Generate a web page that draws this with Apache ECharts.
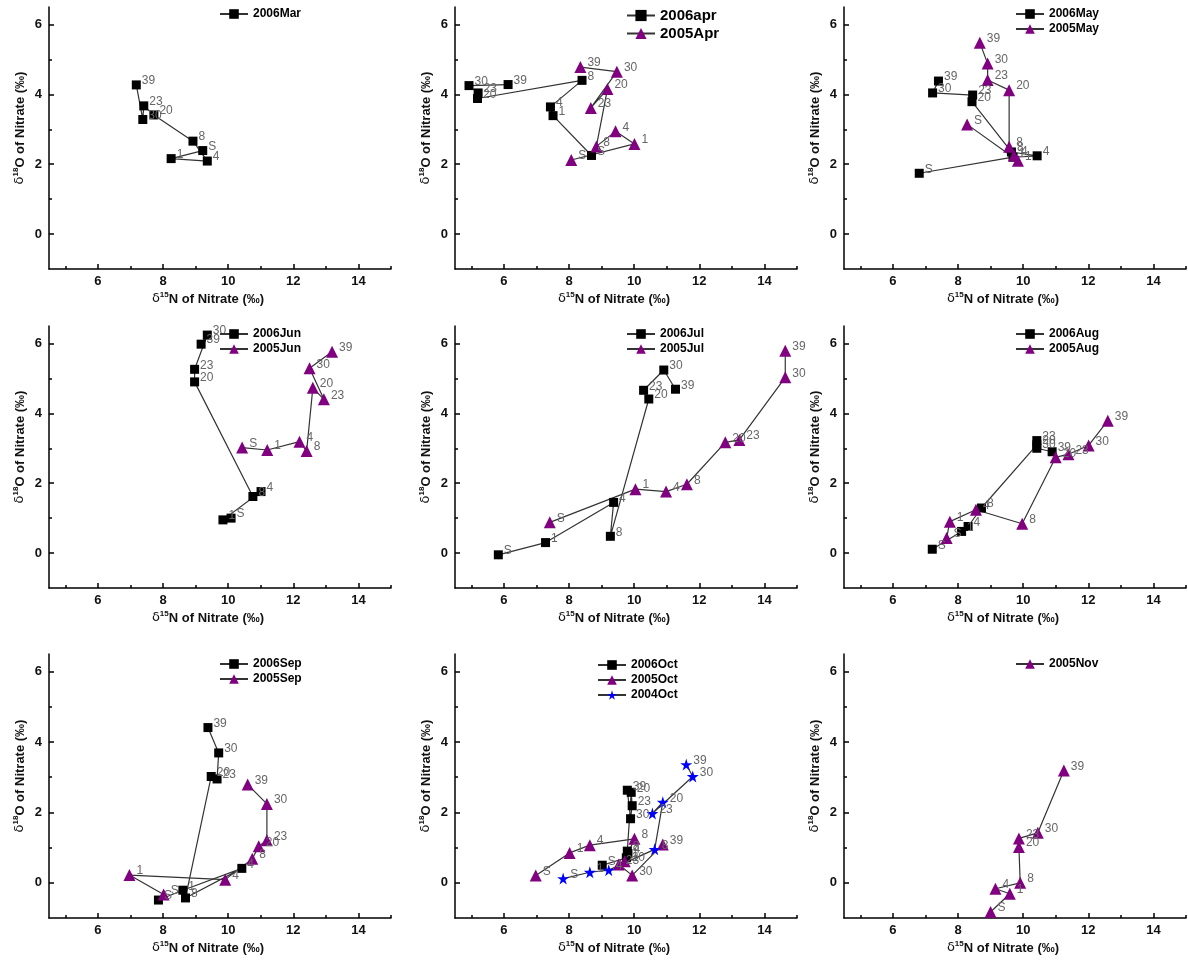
<!DOCTYPE html>
<html>
<head>
<meta charset="utf-8">
<script src="https://cdn.jsdelivr.net/npm/echarts@6/dist/echarts.min.js"></script>
<style>
  html, body { margin: 0; padding: 0; background: #fff; }
  #chart { width: 1188px; height: 965px; }
</style>
</head>
<body>
<div id="chart"></div>
<script>
// sampling sites, in the order the points are joined
const days = ['S', '1', '4', '8', '20', '23', '30', '39']

// δ15N (x) and δ18O (y) per month
const mar06N = [9.22, 8.25, 9.36, 8.92, 7.72, 7.41, 7.38, 7.18]
const mar06O = [2.39, 2.16, 2.09, 2.66, 3.41, 3.67, 3.28, 4.27]

const apr06N = [8.69, 7.51, 7.43, 8.40, 5.19, 5.21, 4.93, 6.13]
const apr06O = [2.25, 3.39, 3.64, 4.40, 3.88, 4.04, 4.25, 4.28]
const apr05N = [8.07, 10.01, 9.43, 8.84, 9.18, 8.67, 9.47, 8.35]
const apr05O = [2.12, 2.58, 2.94, 2.51, 4.15, 3.61, 4.65, 4.78]

const may06N = [6.81, 9.69, 10.43, 9.64, 8.43, 8.45, 7.22, 7.40]
const may06O = [1.74, 2.20, 2.24, 2.35, 3.79, 3.98, 4.04, 4.38]
const may05N = [8.28, 9.84, 9.72, 9.57, 9.57, 8.91, 8.91, 8.67]
const may05O = [3.14, 2.10, 2.25, 2.50, 4.12, 4.41, 4.88, 5.48]

const jun06N = [10.09, 9.84, 11.01, 10.76, 8.97, 8.97, 9.36, 9.17]
const jun06O = [1.00, 0.95, 1.76, 1.62, 4.90, 5.26, 6.24, 5.98]
const jun05N = [10.43, 11.20, 12.19, 12.41, 12.60, 12.94, 12.50, 13.19]
const jun05O = [3.02, 2.95, 3.19, 2.92, 4.73, 4.40, 5.29, 5.76]

const jul06N = [5.83, 7.28, 9.37, 9.27, 10.45, 10.29, 10.91, 11.27]
const jul06O = [-0.05, 0.30, 1.45, 0.48, 4.41, 4.66, 5.24, 4.69]
const jul05N = [7.41, 10.04, 10.98, 11.62, 12.80, 13.23, 14.64, 14.64]
const jul05O = [0.88, 1.83, 1.76, 1.97, 3.17, 3.24, 5.03, 5.79]

const aug06N = [7.21, 8.11, 8.31, 8.72, 10.42, 10.42, 10.42, 10.89]
const aug06O = [0.11, 0.62, 0.76, 1.29, 3.10, 3.22, 3.00, 2.90]
const aug05N = [7.65, 7.75, 8.55, 9.97, 11.00, 11.39, 12.01, 12.60]
const aug05O = [0.43, 0.90, 1.24, 0.84, 2.74, 2.83, 3.08, 3.79]

const sep06N = [7.86, 8.61, 10.42, 8.69, 9.48, 9.66, 9.71, 9.38]
const sep06O = [-0.49, -0.21, 0.41, -0.43, 3.02, 2.95, 3.69, 4.41]
const sep05N = [8.02, 6.97, 9.91, 10.74, 10.94, 11.19, 11.19, 10.60]
const sep05O = [-0.33, 0.22, 0.09, 0.68, 1.04, 1.21, 2.24, 2.79]

const oct06N = [9.02, 9.76, 9.81, 9.79, 9.91, 9.94, 9.89, 9.79]
const oct06O = [0.50, 0.71, 0.83, 0.90, 2.57, 2.19, 1.82, 2.63]
const oct05N = [6.98, 8.02, 8.64, 10.01, 9.71, 9.53, 9.94, 10.88]
const oct05O = [0.21, 0.85, 1.07, 1.25, 0.61, 0.52, 0.21, 1.09]
const oct04N = [7.82, 8.64, 9.22, 10.63, 10.88, 10.56, 11.80, 11.60]
const oct04O = [0.12, 0.30, 0.36, 0.95, 2.29, 1.97, 3.02, 3.36]

const nov05N = [9.00, 9.59, 9.15, 9.91, 9.87, 9.87, 10.45, 11.25]
const nov05O = [-0.83, -0.31, -0.17, 0.00, 1.02, 1.26, 1.42, 3.19]

// tick labels
const xMajor = [6, 8, 10, 12, 14]
const xMinor = [5, 7, 9, 11, 13, 15]
const yMajor = [0, 2, 4, 6]
const yMinor = [1, 3, 5]

const FONT = 'Liberation Sans, Arial, sans-serif'
const SQUARE = { symbol: 'rect', symbolSize: 9, color: '#000000' }
const TRI = { symbol: 'triangle', symbolSize: 12, color: '#800080' }
const STAR = { symbol: 'path://M50,0 L61,35 L98,35 L68,57 L79,91 L50,70 L21,91 L32,57 L2,35 L39,35 Z', symbolSize: 12, color: '#0000ff' }

const panels = [
  { series: [['2006Mar', mar06N, mar06O, SQUARE]], legend: [219, 8] },
  { series: [['2006apr', apr06N, apr06O, SQUARE], ['2005Apr', apr05N, apr05O, TRI]], legend: [626, 8], big: true },
  { series: [['2006May', may06N, may06O, SQUARE], ['2005May', may05N, may05O, TRI]], legend: [1015, 8] },
  { series: [['2006Jun', jun06N, jun06O, SQUARE], ['2005Jun', jun05N, jun05O, TRI]], legend: [219, 328] },
  { series: [['2006Jul', jul06N, jul06O, SQUARE], ['2005Jul', jul05N, jul05O, TRI]], legend: [626, 328] },
  { series: [['2006Aug', aug06N, aug06O, SQUARE], ['2005Aug', aug05N, aug05O, TRI]], legend: [1015, 328] },
  { series: [['2006Sep', sep06N, sep06O, SQUARE], ['2005Sep', sep05N, sep05O, TRI]], legend: [219, 658] },
  { series: [['2006Oct', oct06N, oct06O, SQUARE], ['2005Oct', oct05N, oct05O, TRI], ['2004Oct', oct04N, oct04O, STAR]], legend: [597, 659] },
  { series: [['2005Nov', nov05N, nov05O, TRI]], legend: [1015, 658] }
]

const colLeft = [49, 455, 844]
const rowTop = [7, 326, 654]
const rowH = [262, 262, 264]

const rich = {
  a: { fontFamily: FONT, fontWeight: 'bold', fontSize: 13, color: '#111' },
  d: { fontFamily: 'DejaVu Sans, sans-serif', fontSize: 13, color: '#111' },
  sup: { fontFamily: FONT, fontWeight: 'bold', fontSize: 8, color: '#111', padding: [0, 0, 8, 0] }
}

const grid = []
const xAxis = []
const yAxis = []
const legend = []
const series = []

panels.forEach((p, g) => {
  const col = g % 3
  const row = Math.floor(g / 3)
  grid.push({ left: colLeft[col], top: rowTop[row], width: 342, height: rowH[row] })

  const baseX = {
    type: 'value', gridIndex: g, min: 4.5, max: 15, position: 'bottom',
    splitLine: { show: false }
  }
  xAxis.push({
    ...baseX,
    axisLine: { onZero: false, lineStyle: { color: '#000', width: 1.5 } },
    axisTick: { inside: true, length: 5, customValues: xMajor, lineStyle: { color: '#000', width: 1.5 } },
    axisLabel: { customValues: xMajor, color: '#111', fontFamily: FONT, fontWeight: 'bold', fontSize: 13, margin: 6 },
    name: '{d|δ}{sup|15}{a|N of Nitrate (‰)}',
    nameLocation: 'middle',
    nameGap: 22,
    nameTextStyle: { rich, padding: [0, 24, 0, 0] }
  })
  xAxis.push({
    ...baseX,
    axisLine: { show: false, onZero: false },
    axisTick: { inside: true, length: 3, customValues: xMinor, lineStyle: { color: '#000', width: 1.5 } },
    axisLabel: { show: false }
  })

  const baseY = {
    type: 'value', gridIndex: g, min: -1, max: 6.5, position: 'left',
    splitLine: { show: false }
  }
  yAxis.push({
    ...baseY,
    axisLine: { show: true, onZero: false, lineStyle: { color: '#000', width: 1.5 } },
    axisTick: { show: true, inside: true, length: 5, customValues: yMajor, lineStyle: { color: '#000', width: 1.5 } },
    axisLabel: { customValues: yMajor, color: '#111', fontFamily: FONT, fontWeight: 'bold', fontSize: 13, margin: 7 },
    name: '{d|δ}{sup|18}{a|O of Nitrate (‰)}',
    nameLocation: 'middle',
    nameGap: 21,
    nameTextStyle: { rich, padding: [0, 0, 0, 20] }
  })
  yAxis.push({
    ...baseY,
    axisLine: { show: false, onZero: false },
    axisTick: { show: true, inside: true, length: 3, customValues: yMinor, lineStyle: { color: '#000', width: 1.5 } },
    axisLabel: { show: false }
  })

  legend.push({
    left: p.legend[0], top: p.legend[1],
    orient: 'vertical', padding: 0,
    itemWidth: 28, itemHeight: p.big ? 14 : 12, itemGap: 3,
    data: p.series.map(s => s[0]),
    textStyle: { fontFamily: FONT, fontWeight: 'bold', fontSize: p.big ? 15 : 12, color: '#000' }
  })

  p.series.forEach(([name, xs, ys, mark]) => {
    series.push({
      name,
      type: 'line',
      xAxisIndex: 2 * g,
      yAxisIndex: 2 * g,
      data: days.map((d, i) => ({ name: d, value: [xs[i], ys[i]] })),
      symbol: mark.symbol,
      symbolSize: mark.symbolSize,
      itemStyle: { color: mark.color },
      lineStyle: { color: '#333', width: 1.2 },
      label: {
        show: true, position: 'right', distance: 1, offset: [0, -4],
        formatter: '{b}', color: '#666', fontFamily: FONT, fontSize: 12
      },
      animation: false
    })
  })
})

const option = {
  animation: false,
  backgroundColor: '#fff',
  grid, xAxis, yAxis, legend, series
}

const myChart = echarts.init(document.getElementById('chart'))
option && myChart.setOption(option)
</script>
</body>
</html>
